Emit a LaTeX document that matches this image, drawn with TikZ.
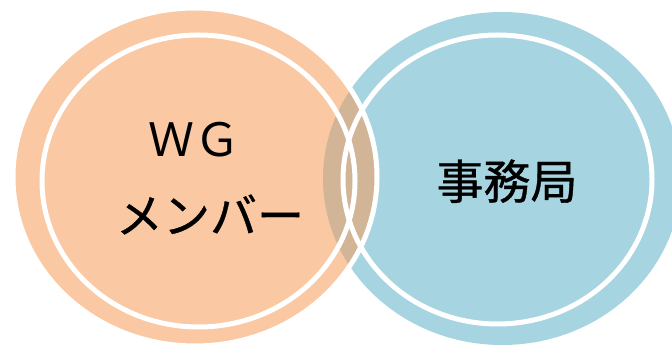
\documentclass[tikz,border=0pt]{standalone}
\usepackage{fontspec}
\newfontfamily\cjk{Noto Sans CJK JP}
\newfontfamily\cjkheavy[FakeBold=0.8]{Noto Sans CJK JP}
\definecolor{orangefill}{HTML}{FAC8A2}
\definecolor{bluefill}{HTML}{A6D4E0}
\definecolor{overlapfill}{HTML}{D2B496}
\tikzset{
  whiteline/.style={draw=white, line width=5pt},
  label/.style={font=\cjk\fontsize{46}{50}\selectfont, text=black, inner sep=0pt, anchor=base},
  heavylabel/.style={font=\cjkheavy\fontsize{47}{50}\selectfont, text=black, inner sep=0pt, anchor=base}
}
\begin{document}
\begin{tikzpicture}[x=1pt,y=-1pt]
\useasboundingbox[fill=white] (0,0) rectangle (672,352);
% fills
\fill[bluefill] (502,178.5) ellipse [x radius=179, y radius=166.5];
\fill[orangefill] (195,177) ellipse [x radius=182, y radius=169];
\begin{scope}
  \clip (195,177) ellipse [x radius=182, y radius=169];
  \fill[overlapfill] (502,178.5) ellipse [x radius=179, y radius=166.5];
\end{scope}
% white lines
\draw[whiteline] (195,177) ellipse [x radius=182, y radius=169];
\draw[whiteline] (198.5,181) ellipse [x radius=156.5, y radius=146];
\draw[whiteline] (497.5,179.5) ellipse [x radius=154.5, y radius=144.5];
% texts
\node[label] (wg) at (194,157) {ＷＧ};
\node[heavylabel] (member) at (210,233) {メンバー};
\node[heavylabel] (office) at (507,199) {事務局};
\end{tikzpicture}
\end{document}
